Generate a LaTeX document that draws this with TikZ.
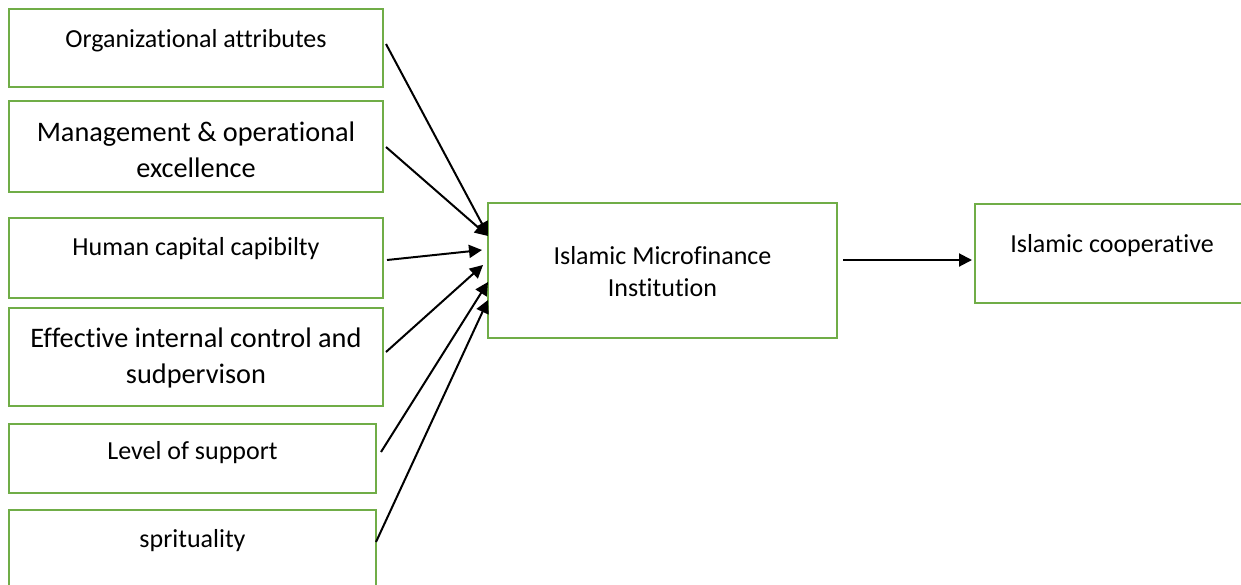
\documentclass[tikz,border=0pt]{standalone}
\usepackage{fontspec}
\setmainfont{Carlito}[Ligatures={CommonOff}]
\usetikzlibrary{arrows.meta,calc}
\definecolor{boxgreen}{RGB}{112,173,71}
\tikzset{
  box/.style={draw=boxgreen, line width=2pt, inner sep=0pt, outer sep=0pt, fill=white},
  lblsmall/.style={anchor=base, align=center, inner sep=0pt, font=\fontsize{26}{31.5}\selectfont},
  lblbig/.style={anchor=base, align=center, inner sep=0pt, font=\fontsize{28.3}{36}\selectfont},
  conn/.style={line width=2pt, -{Triangle[length=13pt,width=13pt]}}
}
\begin{document}
\begin{tikzpicture}[x=1pt,y=-1pt]
\useasboundingbox (0,0) rectangle (1241,584);
% boxes
\node[box, minimum width=374pt, minimum height=78pt] (b1) at (196,48) {};
\node[box, minimum width=374pt, minimum height=91pt] (b2) at (196,146.5) {};
\node[box, minimum width=374pt, minimum height=80pt] (b3) at (196,258) {};
\node[box, minimum width=374pt, minimum height=98pt] (b4) at (196,357) {};
\node[box, minimum width=367pt, minimum height=69pt] (b5) at (192.5,458.5) {};
\node[box, minimum width=367pt, minimum height=90pt] (b6) at (192.5,555) {};
\node[box, minimum width=349pt, minimum height=135pt] (mid) at (662.5,270.5) {};
\node[box, minimum width=274pt, minimum height=99pt] (rt) at (1112,253.5) {};
% labels (multi-line nodes: base = last line's baseline)
\node[lblsmall] (t1) at (196,47) {Organizational attributes};
\node[lblbig] (t2) at (196,177) {Management \& operational\\excellence};
\node[lblsmall] (t3) at (196,255) {Human capital capibilty};
\node[lblbig] (t4) at (196,383) {Effective internal control and\\sudpervison};
\node[lblsmall] (t5) at (192.5,459) {Level of support};
\node[lblsmall] (t6) at (192.5,547) {sprituality};
\node[lblsmall] (tm) at (662.5,296) {Islamic Microfinance\\Institution};
\node[lblsmall] (tr) at (1112,252) {Islamic cooperative};
% connectors
\draw[conn] ($(b1.north east)+(3,35)$) -- ($(mid.north west)+(0,32)$);
\draw[conn] ($(b2.north east)+(3,46)$) -- ($(mid.north west)+(0,33)$);
\draw[conn] ($(b3.north east)+(4,42)$) -- ($(mid.north west)+(-6,47)$);
\draw[conn] ($(b4.north east)+(3,44)$) -- ($(mid.north west)+(-5,62)$);
\draw[conn] ($(b5.north east)+(5,28)$) -- ($(mid.north west)+(0,79)$);
\draw[conn] ($(b6.north east)+(0,32)$) -- ($(mid.north west)+(0,97)$);
\draw[conn] ($(mid.north east)+(6,57)$) -- ($(rt.north west)+(-3,56)$);
\end{tikzpicture}
\end{document}
